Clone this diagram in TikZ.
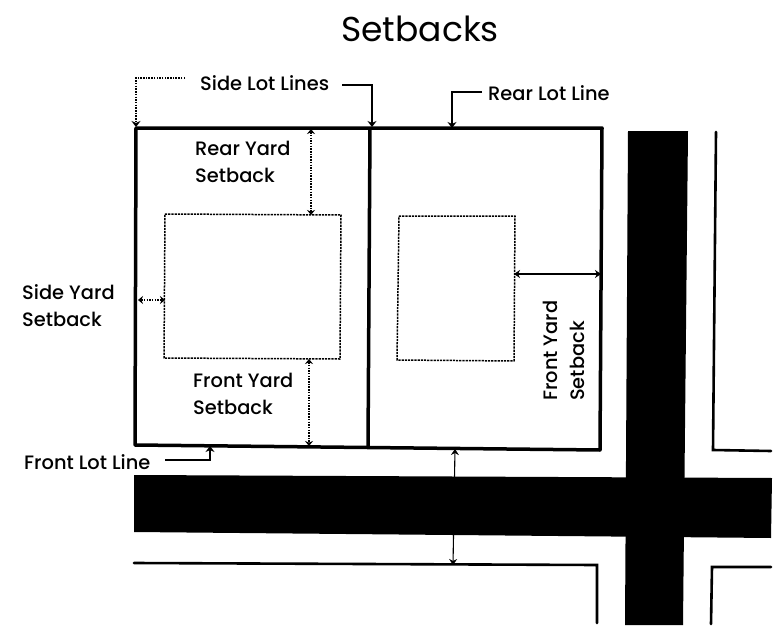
\documentclass[tikz,border=0pt]{standalone}
\usepackage{fontspec}
\setmainfont{Poppins Medium}
\newfontfamily\titlefont{Poppins}
\usetikzlibrary{arrows.meta}
\tikzset{
  lot/.style={line width=3.5pt,line join=round},
  house/.style={line width=1.5pt,dash pattern=on 2.2pt off 1pt,line join=round},
  road/.style={fill=black,draw=none},
  edgeline/.style={line width=2.6pt,line cap=round,line join=miter},
  lbl/.style={font=\fontsize{19.4}{27}\selectfont,inner sep=0pt,align=left,text=black},
  solidarrow/.style={line width=1.1pt,{Stealth[length=6pt,width=8pt]}-{Stealth[length=6pt,width=8pt]}},
  dotarrow/.style={line width=1.2pt,dash pattern=on 1.5pt off 1.2pt,{Stealth[length=5pt,width=8pt]}-{Stealth[length=5pt,width=8pt]}},
  lead/.style={line width=1.2pt,-{Stealth[length=6pt,width=9pt]}},
  dotlead/.style={line width=1.2pt,dash pattern=on 1.5pt off 1.2pt,-{Stealth[length=6pt,width=9pt]}}
}
\begin{document}
\begin{tikzpicture}[x=1pt,y=-1pt]
\useasboundingbox (0,0) rectangle (782,642);
% roads
\fill[road] (134,475) -- (772,478) -- (771,538) -- (134,532) -- cycle;
\fill[road] (628,131) -- (688,131) -- (683,625) -- (625,625) -- cycle;
% neighbouring lots
\draw[edgeline] (716,132) -- (713,450) -- (771,451);
\draw[edgeline] (134,563) -- (597,565) -- (597,623);
\draw[edgeline] (771,567) -- (712,567) -- (711,624);
% lots
\draw[lot] (136,128) -- (602,128) -- (600,450) -- (135,445) -- cycle;
\draw[lot] (370,128) -- (368,447);
% houses
\draw[house] (165,214) -- (341,215) -- (340,359) -- (164,358) -- cycle;
\draw[house] (399,216) -- (515,216) -- (514,361) -- (397,360) -- cycle;
% anchors
\coordinate (rearT) at (311,129);
\coordinate (rearB) at (311,215);
\coordinate (frontT) at (309,359);
\coordinate (frontB) at (309,446);
\coordinate (sideL) at (138,300);
\coordinate (sideR) at (165,300);
\coordinate (fyL) at (514,274);
\coordinate (fyR) at (601,274);
\coordinate (stT) at (455,449);
\coordinate (stB) at (453,565);
% dimension arrows
\draw[dotarrow] (rearT) -- (rearB);
\draw[dotarrow] (frontT) -- (frontB);
\draw[dotarrow] (sideL) -- (sideR);
\draw[solidarrow] (fyL) -- (fyR);
\draw[solidarrow] (stT) -- (stB);
% labels
\node[anchor=center,font=\titlefont\fontsize{34.5}{40}\selectfont,inner sep=0pt] (title) at (420,29) {Setbacks};
\node[lbl,anchor=west] (sll) at (200,83) {Side Lot Lines};
\node[lbl,anchor=west] (rll) at (488,93) {Rear Lot Line};
\node[lbl,anchor=west] (ry) at (195,162) {Rear Yard\\Setback};
\node[lbl,anchor=west] (fy) at (193,394) {Front Yard\\Setback};
\node[lbl,anchor=west] (sy) at (22,306) {Side Yard\\Setback};
\node[lbl,anchor=west] (fll) at (24,462) {Front Lot Line};
\node[lbl,anchor=west,rotate=90] (fyr) at (564,401) {Front Yard\\Setback};
% leaders
\coordinate (c1) at (185,78);
\coordinate (t1) at (136,127);
\draw[dotlead] (c1) -- (136,78) -- (t1);
\coordinate (c2) at (342,85);
\coordinate (t2) at (372,127);
\draw[lead] (c2) -- (372,85) -- (t2);
\coordinate (c3) at (482,92);
\coordinate (t3) at (452,128);
\draw[lead] (c3) -- (452,92) -- (t3);
\coordinate (c4) at (165,460);
\coordinate (t4) at (210,446);
\draw[lead] (c4) -- (210,460) -- (t4);
\end{tikzpicture}
\end{document}
